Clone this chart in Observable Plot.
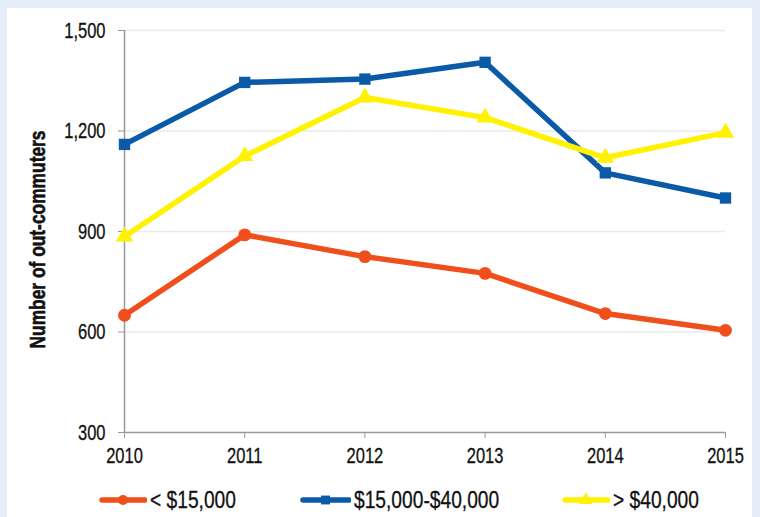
<!DOCTYPE html>
<html><head><meta charset="utf-8">
<script src="https://cdn.jsdelivr.net/npm/d3@7"></script>
<script src="https://cdn.jsdelivr.net/npm/@observablehq/plot@0.6"></script>
<style>
html,body{margin:0;padding:0;}
#page{position:relative;width:760px;height:517px;background:#e4edf8;overflow:hidden;font-family:"Liberation Sans",Arial,sans-serif;}
#panel{position:absolute;left:7px;top:8px;width:745px;height:509px;background:#fff;}
#chart{position:absolute;left:0;top:0;}
#legend{position:absolute;left:0;top:486px;width:760px;height:28px;font-size:24px;color:#111;}
.item{position:absolute;top:0;display:flex;align-items:center;height:28px;}
.item svg{margin-right:3px;flex:none;}
.item span{display:inline-block;transform:scaleX(0.8);transform-origin:left center;white-space:nowrap;-webkit-text-stroke:0.3px #111;}
</style></head>
<body>
<div id="page"><div id="panel"></div><div id="chart"></div><div id="legend"></div></div>
<script>
const years = [2010, 2011, 2012, 2013, 2014, 2015];
const seriesNames = ["< $15,000", "$15,000-$40,000", "> $40,000"];
const low = [650, 890, 825, 775, 655, 605];
const mid = [1160, 1345, 1355, 1405, 1075, 1000];
const high = [885, 1125, 1300, 1240, 1120, 1195];
const yTicks = [300, 600, 900, 1200, 1500];
const yTitle = "Number of out-commuters";
const colors = ["#f04e1b", "#0b5aa8", "#fff200"];
const symbols = ["circle", "square", "triangle"];

const rows = [];
[low, mid, high].forEach((vals, i) => vals.forEach((v, j) => rows.push({year: years[j], value: v, series: seriesNames[i]})));

const font = '"Liberation Sans",Arial,sans-serif';
const chart = Plot.plot({
  width: 760, height: 470,
  marginLeft: 124, marginRight: 35, marginTop: 30, marginBottom: 38,
  style: {fontFamily: font, fontSize: "22px", color: "#111", background: "transparent", overflow: "visible"},
  x: {domain: [2010, 2015], label: null},
  y: {domain: [300, 1500], label: null},
  color: {domain: seriesNames, range: colors},
  symbol: {domain: seriesNames, range: symbols},
  marks: [
    Plot.gridY(yTicks.filter(t => t > 300), {stroke: "#eaeaea", strokeOpacity: 1, strokeWidth: 1.5}),
    Plot.axisY({ticks: yTicks, tickSize: 6, tickPadding: 13, fontSize: 22, stroke: "#999", strokeOpacity: 1, tickFormat: d3.format(","), label: null}),
    Plot.axisX({ticks: years, tickSize: 6, tickPadding: 9, fontSize: 22, stroke: "#999", strokeOpacity: 1, tickFormat: d => String(d), label: null}),
    Plot.ruleX([2010], {stroke: "#999", strokeWidth: 1.5}),
    Plot.ruleY([300], {stroke: "#999", strokeWidth: 1.5}),
    Plot.line(rows, {x: "year", y: "value", z: "series", stroke: "series", strokeWidth: 5.5, curve: "linear"}),
    Plot.dot(rows, {x: "year", y: "value", fill: "series", symbol: "series", r: 6.4, stroke: "none"}),
    Plot.text([yTitle], {frameAnchor: "left", textAnchor: "middle", dx: -87, dy: 8, rotate: -90, fontWeight: "bold", fontSize: 22, text: d => d, fill: "#111", stroke: "#111", strokeWidth: 0.6})
  ]
});
document.getElementById("chart").appendChild(chart);

// condense texts (narrow typeface look)
d3.select(chart).selectAll('g[aria-label$="tick label"] text').each(function() {
  const w = this.getComputedTextLength();
  this.setAttribute("textLength", (w * 0.75).toFixed(1));
  this.setAttribute("lengthAdjust", "spacingAndGlyphs");
  this.setAttribute("stroke", "#111");
  this.setAttribute("stroke-width", "0.3");
});
d3.select(chart).selectAll('g[aria-label="text"] text').each(function() {
  this.setAttribute("textLength", 218);
  this.setAttribute("lengthAdjust", "spacingAndGlyphs");
});

const legendPos = [[99, 150], [300, 354], [562, 613]];
const legend = document.getElementById("legend");
seriesNames.forEach((name, i) => {
  const item = document.createElement("div");
  item.className = "item";
  item.style.left = legendPos[i][0] + "px";
  const L = legendPos[i][1] - legendPos[i][0] - 3;
  const sw = d3.create("svg").attr("width", L).attr("height", 20);
  sw.append("line").attr("x1", 3).attr("x2", L - 2).attr("y1", 10).attr("y2", 10).attr("stroke", colors[i]).attr("stroke-width", 5.5).attr("stroke-linecap", "round");
  const sym = {circle: d3.symbolCircle, square: d3.symbolSquare, triangle: d3.symbolTriangle}[symbols[i]];
  sw.append("path").attr("d", d3.symbol(sym, Math.PI * 5 * 5)()).attr("transform", `translate(${L / 2},10)`).attr("fill", colors[i]);
  item.appendChild(sw.node());
  const t = document.createElement("span");
  t.textContent = name;
  item.appendChild(t);
  legend.appendChild(item);
});
</script>
</body></html>
